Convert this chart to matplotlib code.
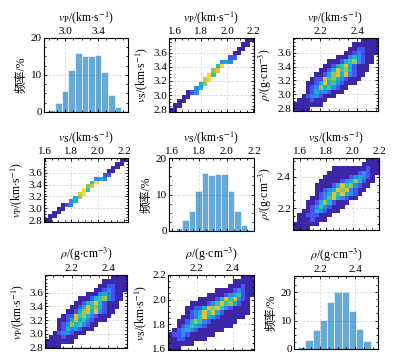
import numpy as np
import matplotlib
matplotlib.use("Agg")
import matplotlib.pyplot as plt
from matplotlib.colors import LinearSegmentedColormap
from matplotlib.ticker import AutoMinorLocator

plt.rcParams['font.family'] = ['Liberation Serif', 'Noto Sans CJK SC', 'DejaVu Sans']
plt.rcParams['mathtext.fontset'] = 'stix'

# ---------------- data ----------------
# marginal histograms (frequency, %)
vp_hist = [0.6, 2.3, 5.7, 11.4, 15.9, 15.2, 15.2, 15.5, 10.9, 4.5, 1.4, 0.3]
vp_hist_range = (2.797, 3.76)
vs_hist = [0.3, 0.7, 2.9, 5.6, 11.0, 16.0, 15.3, 15.5, 15.6, 11.0, 5.6, 1.6, 0.4]
vs_hist_range = (1.58, 2.20)
rho_hist = [0.7, 3.0, 6.8, 10.3, 16.4, 20.2, 19.9, 13.5, 7.0, 2.7, 0.4]
rho_hist_range = (2.074, 2.531)

# 2D histogram density levels (rows from top to bottom, '.' = empty)
grid_vs_vp = [
    "..................11",
    ".................11.",
    "................11..",
    "...............11...",
    "..............22....",
    "............343.....",
    "...........58.......",
    "..........67........",
    ".........85.........",
    "........78..........",
    ".......46...........",
    "......34............",
    "....123.............",
    "...11...............",
    "..11................",
    ".11.................",
    "11..................",
]
grid_rho_vp = [
    "................1111",
    "..............111111",
    ".............1122111",
    "............11232111",
    "..........111343211.",
    "........11124563211.",
    ".......11245742111..",
    "......112475642111..",
    ".....112467473211...",
    "....122756432111....",
    "...112474532111.....",
    "...1236453211.......",
    "...124332111........",
    "..12332111..........",
    ".1112111............",
    "1111111.............",
    "1111................",
]
grid_vs_rho = [
    ".................111",
    "................1111",
    ".........11111111211",
    "........111111123211",
    ".......111111234321.",
    "......1111123464211.",
    ".....1111247563211..",
    ".....112347673211...",
    ".....12347574321....",
    "....11235743211.....",
    "...1124642111.......",
    "...123532111........",
    "..112432111.........",
    ".11222111...........",
    ".1112111............",
    "111111..............",
    "1111................",
]
grid_rho_vs = [
    ".................111",
    "...............11111",
    "..............111211",
    "...........111123211",
    ".........11112345211",
    ".......111124757321.",
    ".....11112357564211.",
    "....112247675321111.",
    "....123475742111111.",
    "...112357432111111..",
    "..11246532111111....",
    "..1235432111111.....",
    ".123432111111.......",
    "12232111111.........",
    "112211111...........",
    "111111..............",
    "111.................",
]

lab_vp = r'$\mathit{v}_{\mathrm{P}}$/(km$\cdot$s$^{-1}$)'
lab_vs = r'$\mathit{v}_{\mathrm{S}}$/(km$\cdot$s$^{-1}$)'
lab_rho = r'$\rho$/(g$\cdot$cm$^{-3}$)'
lab_freq = '频率/%'

ticks_vp = [2.8, 3.0, 3.2, 3.4, 3.6]
ticks_vp_hist = [3.0, 3.4]
ticks_vs = [1.6, 1.8, 2.0, 2.2]
ticks_rho = [2.2, 2.4]
ticks_freq = [0, 10, 20]

# ---------------- style ----------------
parula = LinearSegmentedColormap.from_list(
    'parula', ['#3e26a8', '#4852f4', '#2e87f7', '#15b0d6', '#27c4b4',
               '#75cd6b', '#d4be3a', '#fdc73a', '#f9fb14'])
bar_color = '#66aad8'
W, H = 414, 361
fig = plt.figure(figsize=(W / 100, H / 100), dpi=100)


def make_ax(l, t, r, b):
    return fig.add_axes([l / W, 1 - b / H, (r - l) / W, (b - t) / H])


def style(ax, xlabel, ylabel, xlim, ylim, xticks, yticks):
    ax.set_xlim(*xlim)
    ax.set_ylim(*ylim)
    ax.set_xticks(xticks)
    ax.set_yticks(yticks)
    ax.xaxis.set_minor_locator(AutoMinorLocator(4))
    ax.yaxis.set_minor_locator(AutoMinorLocator(4))
    ax.xaxis.set_label_position('top')
    ax.tick_params(which='both', direction='in', top=True, right=True,
                   labeltop=True, labelbottom=False, labelsize=8,
                   pad=1.5, width=0.6)
    ax.tick_params(which='major', length=2.5)
    ax.tick_params(which='minor', length=1.3)
    ax.set_xlabel(xlabel, fontsize=8.5, labelpad=4)
    ax.set_ylabel(ylabel, fontsize=8.5, labelpad=2)
    ax.grid(True, which='major', color='k', alpha=0.15, lw=0.6, ls=(0, (3, 2)))
    ax.set_axisbelow(False)
    for s in ax.spines.values():
        s.set_linewidth(0.8)


def hist(ax, heights, rng):
    edges = np.linspace(rng[0], rng[1], len(heights) + 1)
    ax.bar(edges[:-1], heights, width=np.diff(edges), align='edge',
           color=bar_color, edgecolor='white', linewidth=0.4)


def grid2d(ax, rows, xlim, ylim):
    arr = np.array([[0 if c == '.' else int(c) for c in r] for r in rows], float)[::-1]
    arr = np.ma.masked_equal(arr, 0)
    xe = np.linspace(xlim[0], xlim[1], arr.shape[1] + 1)
    ye = np.linspace(ylim[0], ylim[1], arr.shape[0] + 1)
    ax.pcolormesh(xe, ye, arr, cmap=parula, vmin=1, vmax=8.6, shading='flat')


# row 1
ax = make_ax(44, 38, 128, 112)
hist(ax, vp_hist, vp_hist_range)
style(ax, lab_vp, lab_freq, (2.745, 3.76), (0, 20), ticks_vp_hist, ticks_freq)

ax = make_ax(169, 38, 254, 112)
grid2d(ax, grid_vs_vp, (1.554, 2.205), (2.76, 3.81))
style(ax, lab_vp, lab_vs, (1.554, 2.205), (2.76, 3.81), ticks_vs, ticks_vp)

ax = make_ax(293, 38, 378, 111)
grid2d(ax, grid_rho_vp, (2.054, 2.513), (2.76, 3.81))
style(ax, lab_vp, lab_rho, (2.054, 2.513), (2.76, 3.81), ticks_rho, ticks_vp)

# row 2
ax = make_ax(44, 158, 128, 222)
grid2d(ax, grid_vs_vp, (1.592, 2.23), (2.766, 3.855))
style(ax, lab_vs, lab_vp, (1.592, 2.23), (2.766, 3.855), ticks_vs, ticks_vp)

ax = make_ax(169, 158, 254, 231)
hist(ax, vs_hist, vs_hist_range)
style(ax, lab_vs, lab_freq, (1.578, 2.2), (0, 20), ticks_vs, ticks_freq)

ax = make_ax(293, 158, 379, 230)
grid2d(ax, grid_vs_rho, (1.547, 2.2), (2.06, 2.52))
style(ax, lab_vs, lab_rho, (1.547, 2.2), (2.06, 2.52), ticks_vs, ticks_rho)

# row 3
ax = make_ax(45, 275, 127, 348)
grid2d(ax, grid_rho_vp, (2.054, 2.502), (2.79, 3.86))
style(ax, lab_rho, lab_vp, (2.054, 2.502), (2.79, 3.86), ticks_rho, ticks_vp)

ax = make_ax(168, 275, 254, 350)
grid2d(ax, grid_rho_vs, (2.04, 2.517), (1.59, 2.2))
style(ax, lab_rho, lab_vs, (2.04, 2.517), (1.59, 2.2), ticks_rho, ticks_vs)

ax = make_ax(294, 276, 378, 349)
hist(ax, rho_hist, rho_hist_range)
style(ax, lab_rho, lab_freq, (2.051, 2.531), (0, 25.7), ticks_rho, ticks_freq)

fig.savefig('out.png', dpi=100)
